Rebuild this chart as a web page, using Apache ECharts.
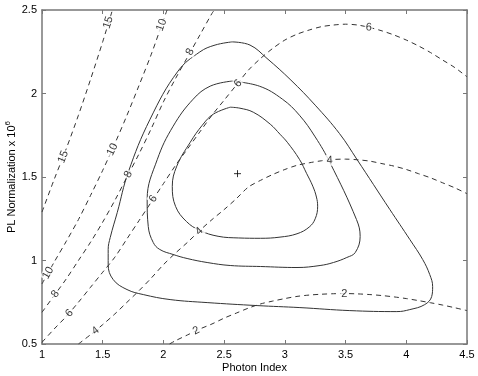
<!DOCTYPE html>
<html>
<head>
<meta charset="utf-8">
<script src="https://cdn.jsdelivr.net/npm/echarts@6/dist/echarts.min.js"></script>
<style>
  html, body { margin: 0; padding: 0; background: #fff; }
  #chart { width: 478px; height: 376px; }
</style>
</head>
<body>
<div id="chart"></div>
<script>
// dashed contour lines [photon index, norm]
const line15 = [[1.0,1.29],[1.1,1.485],[1.2,1.67],[1.3,1.87],[1.4,2.085],[1.5,2.31],[1.58,2.5]];
const line10 = [[1.0,0.86],[1.1,0.99],[1.2,1.115],[1.3,1.245],[1.4,1.39],[1.5,1.54],[1.6,1.70],[1.7,1.87],[1.8,2.05],[1.9,2.235],[2.0,2.44],[2.03,2.5]];
const line8 = [[1.0,0.69],[1.1,0.79],[1.2,0.89],[1.3,1.0],[1.4,1.11],[1.5,1.23],[1.6,1.36],[1.7,1.5],[1.8,1.64],[1.9,1.79],[2.0,1.95],[2.1,2.09],[2.2,2.22],[2.3,2.35],[2.4,2.48],[2.42,2.5]];
const line6 = [[1.0,0.51],[1.1,0.59],[1.2,0.665],[1.3,0.75],[1.4,0.84],[1.5,0.93],[1.6,1.02],[1.7,1.13],[1.8,1.24],[1.9,1.35],[2.0,1.46],[2.1,1.57],[2.2,1.67],[2.3,1.77],[2.4,1.87],[2.5,1.96],[2.6,2.05],[2.7,2.14],[2.8,2.21],[2.9,2.27],[3.0,2.32],[3.1,2.355],[3.2,2.38],[3.3,2.4],[3.4,2.41],[3.5,2.415],[3.6,2.41],[3.7,2.395],[3.8,2.375],[3.9,2.35],[4.0,2.32],[4.1,2.285],[4.2,2.245],[4.3,2.2],[4.4,2.155],[4.5,2.1]];
const line4 = [[1.3,0.5],[1.4,0.556],[1.5,0.616],[1.6,0.68],[1.7,0.75],[1.8,0.82],[1.9,0.895],[2.0,0.975],[2.1,1.045],[2.2,1.11],[2.3,1.18],[2.4,1.245],[2.5,1.305],[2.6,1.37],[2.7,1.44],[2.8,1.48],[2.9,1.515],[3.0,1.545],[3.1,1.57],[3.2,1.585],[3.3,1.597],[3.4,1.605],[3.5,1.607],[3.6,1.603],[3.7,1.595],[3.8,1.58],[3.9,1.565],[4.0,1.545],[4.1,1.52],[4.2,1.495],[4.3,1.465],[4.4,1.435],[4.5,1.4]];
const line2 = [[2.05,0.5],[2.1,0.52],[2.2,0.555],[2.3,0.59],[2.4,0.62],[2.5,0.655],[2.6,0.685],[2.7,0.715],[2.8,0.74],[2.9,0.757],[3.0,0.772],[3.1,0.785],[3.2,0.793],[3.3,0.798],[3.4,0.801],[3.5,0.802],[3.6,0.8],[3.7,0.796],[3.8,0.79],[3.9,0.782],[4.0,0.772],[4.1,0.76],[4.2,0.747],[4.3,0.733],[4.4,0.717],[4.5,0.7]];

// solid confidence contours (closed)
const outer = [[2.565,2.309],[2.713,2.29],[2.853,2.21],[3.05,2.08],[3.25,1.93],[3.45,1.76],[3.593,1.606],[3.864,1.306],[4.029,1.126],[4.135,1.006],[4.193,0.916],[4.217,0.844],[4.209,0.784],[4.152,0.736],[4.029,0.706],[3.922,0.694],[3.535,0.7],[3.124,0.718],[2.771,0.73],[2.36,0.748],[2.055,0.766],[1.834,0.796],[1.7,0.826],[1.586,0.886],[1.545,0.976],[1.545,1.066],[1.562,1.138],[1.62,1.288],[1.71,1.528],[1.89,1.846],[2.12,2.134],[2.3,2.249],[2.425,2.29],[2.565,2.309]];
const middle = [[2.56,2.074],[2.79,2.044],[2.98,1.966],[3.12,1.87],[3.25,1.74],[3.37,1.588],[3.59,1.245],[3.62,1.144],[3.58,1.048],[3.51,1.018],[3.4,0.988],[3.29,0.97],[3.1,0.958],[2.8,0.964],[2.55,0.97],[2.36,0.988],[2.195,1.012],[2.08,1.036],[1.97,1.066],[1.916,1.108],[1.875,1.204],[1.866,1.366],[1.95,1.606],[2.08,1.804],[2.245,1.966],[2.385,2.044],[2.56,2.074]];
const inner = [[2.55,1.918],[2.63,1.912],[2.74,1.888],[2.88,1.816],[2.96,1.756],[3.02,1.708],[3.12,1.606],[3.18,1.52],[3.23,1.445],[3.26,1.38],[3.27,1.325],[3.25,1.25],[3.2,1.2],[3.1,1.16],[2.96,1.14],[2.8,1.133],[2.62,1.135],[2.45,1.145],[2.3,1.18],[2.19,1.233],[2.1,1.324],[2.073,1.444],[2.11,1.565],[2.22,1.707],[2.32,1.81],[2.41,1.876],[2.55,1.918]];

const bestFit = [[2.61, 1.52]];

// contour labels
const labelText = ['15','15','10','10','10','8','8','8','6','6','6','6','4','4','4','2','2'];
const labelPos = [[1.175,1.62],[1.545,2.425],[1.05,0.925],[1.58,1.665],[1.985,2.41],[1.11,0.8],[1.71,1.515],[2.22,2.25],[1.225,0.685],[1.915,1.37],[2.614,2.06],[3.69,2.395],[1.44,0.58],[2.294,1.175],[3.37,1.6],[2.27,0.58],[3.49,0.802]];
const labelRot = [68,72,61,65,70,54,62,61,47,56,48,-4,38,43,2,26,0];

const xTicks = ['1','1.5','2','2.5','3','3.5','4','4.5'];
const yTicks = ['0.5','1','1.5','2','2.5'];

const chart = echarts.init(document.getElementById('chart'));

const dashed = (data) => ({
  type: 'line', data: data, showSymbol: false, smooth: 0.3, silent: true,
  lineStyle: { color: '#333', width: 1, type: [5, 4] }
});
const solid = (data) => ({
  type: 'line', data: data, showSymbol: false, smooth: 0.4, silent: true,
  lineStyle: { color: '#333', width: 1 }
});

const axisCommon = {
  type: 'value',
  splitLine: { show: false },
  axisLine: { show: true, onZero: false, lineStyle: { color: '#777', width: 1.5 } },
  axisTick: { show: true, inside: true, length: 4, lineStyle: { color: '#777' } }
};

chart.setOption({
  animation: false,
  textStyle: { fontFamily: 'Liberation Sans, Arial, sans-serif' },
  grid: { left: 42, right: 11, top: 10, bottom: 32, containLabel: false, outerBoundsMode: 'none' },
  xAxis: [
    Object.assign({}, axisCommon, {
      min: 1, max: 4.5, interval: 0.5, position: 'bottom',
      name: 'Photon Index', nameLocation: 'middle', nameGap: 18, nameMoveOverlap: false,
      nameTextStyle: { color: '#000', fontSize: 11 },
      axisLabel: { color: '#000', fontSize: 11, margin: 5,
        formatter: (v) => xTicks[Math.round((v - 1) / 0.5)] }
    }),
    Object.assign({}, axisCommon, {
      min: 1, max: 4.5, interval: 0.5, position: 'top', axisLabel: { show: false }
    })
  ],
  yAxis: [
    Object.assign({}, axisCommon, {
      min: 0.5, max: 2.5, interval: 0.5, position: 'left',
      name: '{a|PL Normalization x 10}{s|6}', nameLocation: 'middle', nameGap: 22, nameMoveOverlap: false,
      nameTextStyle: { color: '#000', fontSize: 11,
        rich: { a: { fontSize: 11, color: '#000' }, s: { fontSize: 8, color: '#000', padding: [0, 0, 8, 0] } } },
      axisLabel: { color: '#000', fontSize: 11, margin: 5,
        formatter: (v) => yTicks[Math.round((v - 0.5) / 0.5)] }
    }),
    Object.assign({}, axisCommon, {
      min: 0.5, max: 2.5, interval: 0.5, position: 'right', axisLabel: { show: false }
    })
  ],
  series: [
    dashed(line15), dashed(line10), dashed(line8), dashed(line6), dashed(line4), dashed(line2),
    solid(outer), solid(middle), solid(inner),
    {
      type: 'scatter', data: bestFit, symbol: 'path://M5,0L5,10M0,5L10,5', symbolSize: 7, silent: true,
      itemStyle: { color: 'none', borderColor: '#000', borderWidth: 1 }
    },
    {
      type: 'scatter', symbolSize: 0, silent: true, z: 5,
      data: labelPos.map((p, i) => ({
        value: p, name: labelText[i],
        label: { rotate: labelRot[i] }
      })),
      label: {
        show: true, position: 'inside', formatter: '{b}', color: '#000', fontSize: 11,
        backgroundColor: '#fff', padding: [0, 1]
      }
    }
  ]
});
</script>
</body>
</html>
